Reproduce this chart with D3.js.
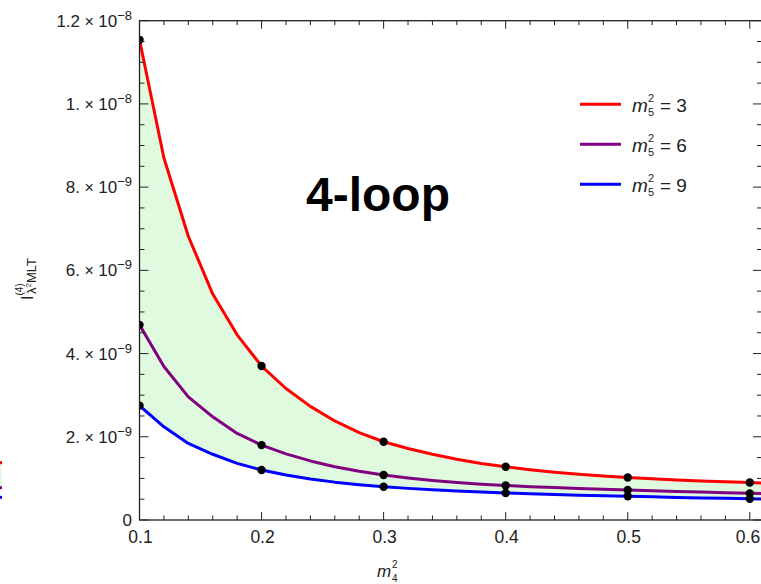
<!DOCTYPE html>
<html>
<head>
<meta charset="utf-8">
<script src="https://cdn.jsdelivr.net/npm/d3@7"></script>
<style>
  body { margin: 0; background: #fff; }
  text { font-family: "Liberation Sans", Arial, sans-serif; }
</style>
</head>
<body>
<div id="chart"></div>
<script>
// m4^2 sample points
const m4 = [0.10, 0.12, 0.14, 0.16, 0.18, 0.20, 0.22, 0.24, 0.26, 0.28, 0.30,
            0.32, 0.34, 0.36, 0.38, 0.40, 0.42, 0.44, 0.46, 0.48, 0.50,
            0.52, 0.54, 0.56, 0.58, 0.60, 0.62];
// values in units of 1e-9
const m5sq3 = [11.54, 8.70, 6.82, 5.43, 4.45, 3.70, 3.16, 2.73, 2.38, 2.10, 1.88,
               1.72, 1.58, 1.46, 1.36, 1.28, 1.21, 1.15, 1.10, 1.055, 1.02,
               0.99, 0.963, 0.94, 0.918, 0.90, 0.882];
const m5sq6 = [4.69, 3.69, 2.96, 2.48, 2.08, 1.80, 1.59, 1.42, 1.28, 1.17, 1.08,
               1.01, 0.95, 0.90, 0.86, 0.83, 0.80, 0.78, 0.76, 0.74, 0.72,
               0.70, 0.685, 0.67, 0.655, 0.64, 0.63];
const m5sq9 = [2.75, 2.24, 1.84, 1.58, 1.36, 1.20, 1.08, 0.985, 0.91, 0.85, 0.80,
               0.76, 0.725, 0.695, 0.67, 0.65, 0.63, 0.612, 0.596, 0.582, 0.57,
               0.556, 0.543, 0.531, 0.52, 0.51, 0.50];
const dotX = [0.1, 0.2, 0.3, 0.4, 0.5, 0.6];
const legendLabels = ["3", "6", "9"];
const colors = ["#ff0000", "#800080", "#0000ff"];
const xTicks = [0.1, 0.2, 0.3, 0.4, 0.5, 0.6];
const xTickLabels = ["0.1", "0.2", "0.3", "0.4", "0.5", "0.6"];
const yTicks = [0, 2e-9, 4e-9, 6e-9, 8e-9, 1e-8, 1.2e-8];
const yMant = ["0", "2.", "4.", "6.", "8.", "1.", "1.2"];
const yExp = ["", "\u22129", "\u22129", "\u22129", "\u22129", "\u22128", "\u22128"];

const W = 761, H = 584;
const pl = 139.5, pr = 762, pt = 20.7, pb = 520;

const svg = d3.select("#chart").append("svg")
    .attr("width", W).attr("height", H);

const x = d3.scaleLinear().domain([0.1, 0.61]).range([pl, pr]);
const y = d3.scaleLinear().domain([0, 1.2e-8]).range([pb, pt]);

const series = [m5sq3, m5sq6, m5sq9].map(arr => m4.map((v, i) => ({x: v, y: arr[i] * 1e-9})));

svg.append("clipPath").attr("id", "plotclip")
  .append("rect").attr("x", pl).attr("y", pt)
  .attr("width", pr - pl).attr("height", pb - pt);

const plot = svg.append("g").attr("clip-path", "url(#plotclip)");

// green band between top and bottom curve
const band = m4.map((v, i) => ({x: v, hi: m5sq3[i] * 1e-9, lo: m5sq9[i] * 1e-9}));
plot.append("path")
    .datum(band)
    .attr("fill", "#dffadf")
    .attr("d", d3.area().x(d => x(d.x)).y0(d => y(d.lo)).y1(d => y(d.hi)));

const line = d3.line().x(d => x(d.x)).y(d => y(d.y));
series.forEach((s, i) => {
  plot.append("path").datum(s)
    .attr("fill", "none")
    .attr("stroke", colors[i])
    .attr("stroke-width", 3)
    .attr("stroke-linejoin", "round")
    .attr("d", line);
});

// dots
series.forEach(s => {
  plot.selectAll(null)
    .data(s.filter(d => dotX.some(v => Math.abs(v - d.x) < 1e-9)))
    .enter().append("circle")
    .attr("cx", d => x(d.x)).attr("cy", d => y(d.y))
    .attr("r", 4.2).attr("fill", "#000");
});

// frame + ticks
const frameColor = "#222";
svg.append("rect")
    .attr("x", pl).attr("y", pt)
    .attr("width", pr - pl).attr("height", pb - pt)
    .attr("fill", "none").attr("stroke", frameColor).attr("stroke-width", 1.3);

const xMinor = d3.range(0, 26).map(i => 0.1 + i * 0.02).filter(v => v <= 0.61);
const yMinor = d3.range(0, 25).map(i => i * 0.5e-9);
const ticks = svg.append("g").attr("stroke", frameColor).attr("stroke-width", 1);

xMinor.forEach(v => {
  const major = xTicks.some(t => Math.abs(t - v) < 1e-9);
  const len = major ? 8 : 4.5;
  ticks.append("line").attr("x1", x(v)).attr("x2", x(v)).attr("y1", pb).attr("y2", pb - len);
  ticks.append("line").attr("x1", x(v)).attr("x2", x(v)).attr("y1", pt).attr("y2", pt + len);
});
yMinor.forEach(v => {
  const major = yTicks.some(t => Math.abs(t - v) < 1e-15);
  const len = major ? 9 : 5;
  ticks.append("line").attr("x1", pl).attr("x2", pl + len).attr("y1", y(v)).attr("y2", y(v));
  ticks.append("line").attr("x1", pr).attr("x2", pr - len).attr("y1", y(v)).attr("y2", y(v));
});

// x tick labels (last one kept inside the window)
svg.selectAll(".xl").data(xTicks).enter().append("text")
    .attr("x", d => Math.min(x(d) + 1, W - 13))
    .attr("y", 543)
    .attr("text-anchor", "middle")
    .attr("font-size", 17.5).attr("fill", "#222")
    .text((d, i) => xTickLabels[i]);

// y tick labels
yTicks.forEach((v, i) => {
  const t = svg.append("text")
      .attr("x", 132).attr("y", y(v) + 6)
      .attr("text-anchor", "end")
      .attr("font-size", 17).attr("fill", "#222");
  if (yExp[i] === "") {
    t.text(yMant[i]);
  } else {
    t.append("tspan").text(yMant[i]);
    t.append("tspan").attr("font-size", 16).text(" \u00d7 ");
    t.append("tspan").text("10");
    t.append("tspan").attr("font-size", 13).attr("dy", -7).text(yExp[i]);
  }
});

// 4-loop label
svg.append("text")
    .attr("x", 378).attr("y", 211)
    .attr("text-anchor", "middle")
    .attr("font-size", 48).attr("font-weight", "bold")
    .attr("fill", "#000")
    .text("4-loop");

// legend
legendLabels.forEach((lab, i) => {
  const ly = 104.3 + i * 40;
  svg.append("line")
      .attr("x1", 580).attr("x2", 621).attr("y1", ly).attr("y2", ly)
      .attr("stroke", colors[i]).attr("stroke-width", 3);
  const g = svg.append("g").attr("fill", "#222");
  g.append("text").attr("x", 632).attr("y", ly + 8)
      .attr("font-size", 19).attr("font-style", "italic").text("m");
  g.append("text").attr("x", 648).attr("y", ly - 2)
      .attr("font-size", 11).text("2");
  g.append("text").attr("x", 648).attr("y", ly + 12)
      .attr("font-size", 11).text("5");
  g.append("text").attr("x", 660).attr("y", ly + 8)
      .attr("font-size", 19).text("= " + lab);
});

// axis titles
const xt = svg.append("g").attr("fill", "#222");
xt.append("text").attr("x", 377).attr("y", 577).attr("font-size", 17).attr("font-style", "italic").text("m");
xt.append("text").attr("x", 392).attr("y", 568).attr("font-size", 10).text("2");
xt.append("text").attr("x", 392).attr("y", 582).attr("font-size", 10).text("4");

const yt = svg.append("text")
    .attr("transform", "translate(33,300) rotate(-90)")
    .attr("font-size", 16).attr("fill", "#222");
yt.append("tspan").text("I");
yt.append("tspan").attr("font-size", 10).attr("dy", -10).text("(4)");
yt.append("tspan").attr("x", 6).attr("dy", 13).attr("font-size", 13).text("\u03bb");
yt.append("tspan").attr("font-size", 8).attr("dy", -5).text("2");
yt.append("tspan").attr("font-size", 13).attr("dy", 5).text("MLT");

// remnants of the neighbouring panel cut off at the left edge
const rem = svg.append("g");
rem.append("rect").attr("x", 0).attr("y", 464).attr("width", 2).attr("height", 24).attr("fill", "#e6fae6");
[[462.7, colors[0]], [487.7, colors[1]], [497.3, colors[2]]].forEach(r => {
  rem.append("rect").attr("x", 0).attr("y", r[0] - 1.5).attr("width", 2).attr("height", 3).attr("fill", r[1]);
});
</script>
</body>
</html>
